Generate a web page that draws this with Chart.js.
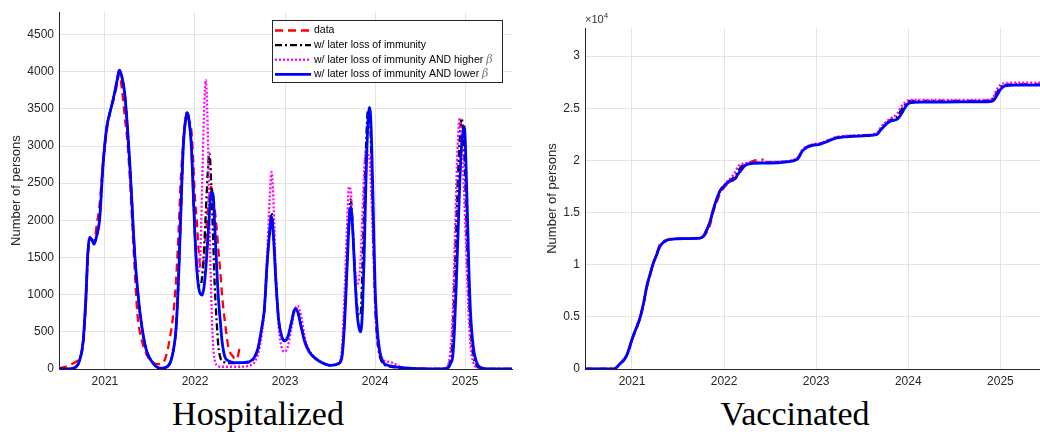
<!DOCTYPE html>
<html lang="en">
<head>
    <meta charset="UTF-8">
    <title>Hospitalized / Vaccinated</title>
    <script src="https://cdn.jsdelivr.net/npm/chart.js"></script>
    <style>
        body {
            margin: 0;
            background: #fff;
            font-family: 'Liberation Sans', Arial, sans-serif;
        }
        #wrap {
            position: relative;
            width: 1040px;
            height: 434px;
            overflow: hidden;
        }
        canvas {
            position: absolute;
            top: 0;
        }
        #hosp { left: 0; }
        #vacc { left: 528px; }
        .titulo {
            position: absolute;
            top: 394px;
            width: 300px;
            text-align: center;
            font-family: 'Liberation Serif', 'DejaVu Serif', serif;
            font-size: 34px;
            line-height: 40px;
            color: #000;
        }
        #expo {
            position: absolute;
            left: 585px;
            top: 11px;
            font-size: 11px;
            color: #333;
        }
        #expo sup { font-size: 8px; }
    </style>
</head>
<body>
<div id="wrap">
    <canvas id="hosp" width="520" height="392"></canvas>
    <canvas id="vacc" width="512" height="392"></canvas>
    <div id="expo">&times;10<sup>4</sup></div>
    <div class="titulo" style="left:108px">Hospitalized</div>
    <div class="titulo" style="left:645px">Vaccinated</div>
</div>

<script>
    // nomes das series (legenda)
    var seriesNames = ['data', 'w/ later loss of immunity',
        'w/ later loss of immunity AND higher β', 'w/ later loss of immunity AND lower β'];
    var yearTicks = [2021, 2022, 2023, 2024, 2025];
    var hospYTicks = [0, 500, 1000, 1500, 2000, 2500, 3000, 3500, 4000, 4500];
    var vaccYTicks = [0, 5000, 10000, 15000, 20000, 25000, 30000];

    // ---- Hospitalized ----
    var hospT = [
        2020.49, 2020.55, 2020.60, 2020.64, 2020.68, 2020.72, 2020.76, 2020.79, 2020.81, 2020.83,
        2020.855, 2020.88, 2020.91, 2020.94, 2020.98, 2021.02, 2021.05, 2021.09, 2021.13, 2021.16,
        2021.19, 2021.22, 2021.25, 2021.28, 2021.31, 2021.33, 2021.36, 2021.39, 2021.43, 2021.46,
        2021.50, 2021.54, 2021.58, 2021.63, 2021.66, 2021.70, 2021.73, 2021.76, 2021.79, 2021.82,
        2021.84, 2021.87, 2021.89, 2021.91, 2021.93, 2021.96, 2021.98, 2022.00, 2022.02, 2022.04,
        2022.06, 2022.08, 2022.10, 2022.12, 2022.14, 2022.16, 2022.18, 2022.20, 2022.22, 2022.24,
        2022.26, 2022.28, 2022.30, 2022.33, 2022.37, 2022.42, 2022.46, 2022.50, 2022.56, 2022.62,
        2022.66, 2022.70, 2022.74, 2022.77, 2022.80, 2022.83, 2022.85, 2022.87, 2022.90, 2022.93,
        2022.96, 2022.99, 2023.03, 2023.07, 2023.11, 2023.14, 2023.18, 2023.22, 2023.27, 2023.33,
        2023.40, 2023.46, 2023.50, 2023.55, 2023.59, 2023.63, 2023.66, 2023.69, 2023.71, 2023.73,
        2023.75, 2023.78, 2023.80, 2023.82, 2023.84, 2023.86, 2023.88, 2023.90, 2023.92, 2023.94,
        2023.96, 2023.98, 2024.00, 2024.02, 2024.05, 2024.09, 2024.14, 2024.20, 2024.28, 2024.38,
        2024.50, 2024.65, 2024.78, 2024.82, 2024.84, 2024.86, 2024.88, 2024.90, 2024.92, 2024.94,
        2024.96, 2024.99, 2025.02, 2025.04, 2025.06, 2025.09, 2025.13, 2025.18, 2025.26, 2025.52
    ];
    var hospData = [
        10, 25, 45, 70, 100, 150, 350, 900, 1500, 1750,
        1730, 1720, 1950, 2200, 2800, 3200, 3430, 3600, 3800, 3970,
        3750, 3400, 3050, 2500, 1800, 1350, 750, 480, 300, 200,
        120, 80, 65, 70, 110, 280, 480, 750, 1200, 1900,
        2500, 3050, 3300, 3400, 3350, 3210, 2800, 2300, 2000, 1600,
        1375, 1350, 1500, 1800, 2100, 2350, 2450, 2350, 2140, 1900,
        1600, 1330, 1000, 660, 300, 170, 130, 300
    ];
    var hospLoss = [
        0, 0, 0, 10, 30, 120, 400, 1000, 1550, 1770,
        1740, 1680, 1800, 2000, 2760, 3250, 3420, 3620, 3850, 4020,
        3920, 3700, 3250, 2680, 2000, 1560, 1100, 750, 420, 255,
        140, 70, 25, 10, 15, 40, 100, 250, 550, 1300,
        2000, 2990, 3300, 3450, 3380, 2990, 2400, 1780, 1350, 1150,
        1120, 1250, 1600, 2100, 2600, 2900, 2500, 1800, 1100, 650,
        300, 160, 110, 90, 80, 80, 80, 80, 85, 100,
        150, 270, 540, 800, 1400, 1900, 2100, 1850, 1150, 650,
        460, 380, 420, 620, 820, 780, 570, 370, 230, 150,
        90, 60, 50, 55, 70, 160, 650, 1500, 2050, 2280,
        1950, 1200, 850, 720, 750, 1400, 2300, 3000, 3480, 3400,
        2800, 1800, 900, 450, 180, 70, 40, 25, 15, 8,
        3, 0, 8, 60, 160, 400, 1100, 1900, 2600, 3100,
        3370, 2900, 1700, 1000, 500, 180, 40, 8, 0, 0
    ];
    var hospHigh = [
        0, 0, 0, 10, 30, 120, 400, 1000, 1550, 1770,
        1740, 1680, 1800, 2000, 2760, 3250, 3420, 3620, 3850, 4020,
        3920, 3700, 3250, 2680, 2000, 1560, 1100, 750, 420, 255,
        140, 70, 25, 10, 15, 40, 100, 250, 550, 1300,
        2000, 2990, 3300, 3450, 3380, 2990, 2400, 1800, 1400, 1300,
        1550, 2500, 3450, 3890, 3300, 2100, 1000, 350, 120, 50,
        35, 30, 30, 30, 30, 30, 30, 30, 35, 50,
        90, 200, 450, 800, 1500, 2300, 2650, 2300, 1200, 550,
        300, 230, 300, 550, 800, 850, 700, 420, 250, 160,
        90, 60, 50, 55, 80, 250, 1000, 2000, 2450, 2400,
        1900, 1300, 1150, 1200, 1500, 2100, 2700, 2950, 2900, 2800,
        2300, 1600, 900, 450, 200, 120, 100, 80, 30, 10,
        3, 0, 15, 100, 300, 700, 1500, 2400, 3100, 3380,
        3100, 2300, 1300, 700, 300, 90, 20, 5, 0, 0
    ];
    var hospLow = [
        0, 0, 0, 10, 30, 120, 400, 1000, 1550, 1770,
        1740, 1680, 1800, 2000, 2760, 3250, 3420, 3620, 3850, 4020,
        3920, 3700, 3250, 2680, 2000, 1560, 1100, 750, 420, 255,
        140, 70, 25, 10, 15, 40, 100, 250, 550, 1300,
        2000, 2990, 3300, 3450, 3380, 2990, 2400, 1780, 1350, 1100,
        1010, 995, 1100, 1350, 1700, 2100, 2380, 2350, 1900, 1400,
        950, 660, 380, 170, 110, 90, 85, 85, 90, 110,
        160, 280, 550, 800, 1400, 1850, 2050, 1800, 1150, 650,
        450, 380, 430, 620, 810, 770, 560, 360, 230, 150,
        90, 60, 50, 55, 70, 150, 600, 1400, 1950, 2180,
        1900, 1150, 750, 560, 500, 800, 1600, 2600, 3300, 3520,
        3100, 2100, 1100, 600, 250, 90, 50, 35, 20, 10,
        5, 0, 5, 30, 80, 150, 500, 1100, 1800, 2500,
        3000, 3260, 2300, 1400, 750, 300, 80, 15, 0, 0
    ];

    // ---- Vaccinated ----
    var vaccT = [
        2020.49, 2020.60, 2020.70, 2020.80, 2020.87, 2020.94, 2021.01, 2021.05, 2021.09, 2021.13,
        2021.16, 2021.20, 2021.23, 2021.27, 2021.30, 2021.35, 2021.41, 2021.50, 2021.59, 2021.68,
        2021.74, 2021.78, 2021.81, 2021.85, 2021.88, 2021.92, 2021.96, 2022.00, 2022.03, 2022.08,
        2022.12, 2022.16, 2022.21, 2022.26, 2022.32, 2022.43, 2022.61, 2022.75, 2022.80, 2022.85,
        2022.90, 2022.96, 2023.04, 2023.13, 2023.22, 2023.30, 2023.40, 2023.55, 2023.66, 2023.70,
        2023.74, 2023.77, 2023.82, 2023.88, 2023.92, 2023.96, 2023.99, 2024.03, 2024.13, 2024.40,
        2024.70, 2024.89, 2024.93, 2024.96, 2025.00, 2025.05, 2025.15, 2025.43
    ];
    var vaccData = [
        0, 0, 0, 0, 450, 1200, 3000, 3900, 4900, 6400,
        7800, 9100, 10100, 11100, 11900, 12300, 12450, 12500, 12500, 12550,
        12600, 12700, 13100, 13900, 15000, 16000, 16900, 17400, 17700, 18000,
        18200, 18700, 19300, 19700, 19950, 20100
    ];
    var vaccLoss = [
        0, 0, 0, 0, 500, 1250, 3100, 4000, 5000, 6500,
        7900, 9200, 10100, 11000, 11700, 12200, 12430, 12480, 12500, 12520,
        12550, 12800, 13300, 14200, 15200, 16300, 17150, 17550, 17850, 18200,
        18500, 19100, 19600, 19700, 19780, 19800, 19850, 20000, 20200, 20950,
        21300, 21500, 21600, 21900, 22200, 22300, 22350, 22420, 22550, 23000,
        23400, 23650, 23950, 24200, 24800, 25300, 25600, 25700, 25720, 25720,
        25720, 25750, 26000, 26500, 27000, 27250, 27300, 27300
    ];
    var vaccHigh = [
        0, 0, 0, 0, 500, 1250, 3100, 4000, 5000, 6500,
        7900, 9200, 10100, 11000, 11700, 12200, 12430, 12480, 12500, 12520,
        12550, 12800, 13300, 14200, 15200, 16300, 17150, 17600, 17950, 18400,
        18900, 19500, 19700, 19780, 19830, 19850, 19900, 20050, 20300, 21050,
        21350, 21550, 21650, 21950, 22250, 22350, 22400, 22450, 22650, 23150,
        23550, 23800, 24100, 24500, 25100, 25550, 25750, 25800, 25800, 25800,
        25800, 25850, 26200, 26800, 27250, 27400, 27450, 27450
    ];
    var vaccLow = [
        0, 0, 0, 0, 500, 1250, 3100, 4000, 5000, 6500,
        7900, 9200, 10100, 11000, 11700, 12200, 12430, 12480, 12500, 12520,
        12550, 12800, 13300, 14200, 15200, 16300, 17150, 17550, 17800, 18100,
        18300, 18800, 19400, 19650, 19730, 19750, 19800, 19950, 20150, 20900,
        21250, 21450, 21550, 21850, 22150, 22250, 22300, 22380, 22500, 22900,
        23300, 23550, 23800, 23950, 24400, 25000, 25400, 25550, 25600, 25600,
        25620, 25650, 25800, 26200, 26800, 27150, 27220, 27220
    ];

    function pontos(t, v) {
        var out = [];
        for (var i = 0; i < v.length; i++) {
            out.push({ x: t[i], y: v[i] });
        }
        return out;
    }

    function montarDatasets(t, dados, perda, alto, baixo) {
        return [
            { label: seriesNames[0], data: pontos(t, dados), borderColor: '#ff0000', borderWidth: 2.3, borderDash: [8, 5], order: 4 },
            { label: seriesNames[1], data: pontos(t, perda), borderColor: '#000000', borderWidth: 2.3, borderDash: [7, 3, 2, 3], order: 3 },
            { label: seriesNames[2], data: pontos(t, alto), borderColor: '#ff00ff', borderWidth: 2.3, borderDash: [2, 2], order: 2 },
            { label: seriesNames[3], data: pontos(t, baixo), borderColor: '#0000ff', borderWidth: 2.8, order: 1 }
        ];
    }

    // legenda desenhada no canvas (estilo MATLAB)
    var legendBox = {
        id: 'legendBox',
        afterDraw: function(chart) {
            var ctx = chart.ctx;
            var x0 = 272, y0 = 20, w = 230, h = 62;
            ctx.save();
            ctx.fillStyle = '#fff';
            ctx.fillRect(x0, y0, w, h);
            ctx.strokeStyle = '#262626';
            ctx.lineWidth = 1;
            ctx.strokeRect(x0 + 0.5, y0 + 0.5, w, h);
            chart.data.datasets.forEach(function(ds, i) {
                var y = y0 + 10.5 + i * 14.6;
                ctx.beginPath();
                ctx.setLineDash(ds.borderDash || []);
                ctx.strokeStyle = ds.borderColor;
                ctx.lineWidth = ds.borderWidth;
                ctx.moveTo(x0 + 3, y);
                ctx.lineTo(x0 + 39, y);
                ctx.stroke();
                ctx.setLineDash([]);
                var partes = ds.label.split(' β');
                ctx.fillStyle = '#000';
                ctx.font = '10.5px "Liberation Sans"';
                ctx.textBaseline = 'middle';
                ctx.fillText(partes[0], x0 + 42, y);
                if (partes.length > 1) {
                    var largura = ctx.measureText(partes[0] + ' ').width;
                    ctx.fillStyle = '#777';
                    ctx.font = 'italic 11px "DejaVu Serif"';
                    ctx.fillText('β', x0 + 42 + largura, y);
                }
            });
            ctx.restore();
        }
    };

    function opcoes(xMax, yMax, yTicks, larguraY, padTopo, padDir, tituloPad, formatoY) {
        return {
            responsive: false,
            animation: false,
            layout: { padding: { top: padTopo, right: padDir, left: 0, bottom: 0 } },
            elements: {
                point: { radius: 0 },
                line: { cubicInterpolationMode: 'monotone', fill: false }
            },
            plugins: { legend: { display: false }, tooltip: { enabled: false } },
            scales: {
                x: {
                    type: 'linear',
                    min: 2020.49,
                    max: xMax,
                    afterBuildTicks: function(scale) {
                        scale.ticks = yearTicks.map(function(v) { return { value: v }; });
                    },
                    afterFit: function(scale) { scale.height = 23; },
                    ticks: {
                        callback: function(v) { return String(v); },
                        font: { family: 'Liberation Sans', size: 12 },
                        color: '#262626',
                        padding: 5,
                        maxRotation: 0
                    },
                    grid: { color: '#e3e3e3', drawTicks: false },
                    border: { color: '#262626', width: 1 }
                },
                y: {
                    min: 0,
                    max: yMax,
                    afterBuildTicks: function(scale) {
                        scale.ticks = yTicks.map(function(v) { return { value: v }; });
                    },
                    afterFit: function(scale) { scale.width = larguraY; },
                    ticks: {
                        callback: formatoY,
                        font: { family: 'Liberation Sans', size: 12 },
                        color: '#262626',
                        padding: 5
                    },
                    grid: { color: '#e3e3e3', drawTicks: false },
                    border: { color: '#262626', width: 1 },
                    title: {
                        display: true,
                        text: 'Number of persons',
                        font: { family: 'Liberation Sans', size: 13 },
                        color: '#262626',
                        padding: { top: tituloPad, bottom: 0 }
                    }
                }
            }
        };
    }

    new Chart(document.getElementById('hosp').getContext('2d'), {
        type: 'line',
        data: { datasets: montarDatasets(hospT, hospData, hospLoss, hospHigh, hospLow) },
        options: opcoes(2025.52, 4800, hospYTicks, 59, 10, 8, 9, function(v) { return String(v); }),
        plugins: [legendBox]
    });

    new Chart(document.getElementById('vacc').getContext('2d'), {
        type: 'line',
        data: { datasets: montarDatasets(vaccT, vaccData, vaccLoss, vaccHigh, vaccLow) },
        options: opcoes(2025.43, 32700, vaccYTicks, 57, 28, 0, 17, function(v) { return String(v / 10000); })
    });
</script>
</body>
</html>
